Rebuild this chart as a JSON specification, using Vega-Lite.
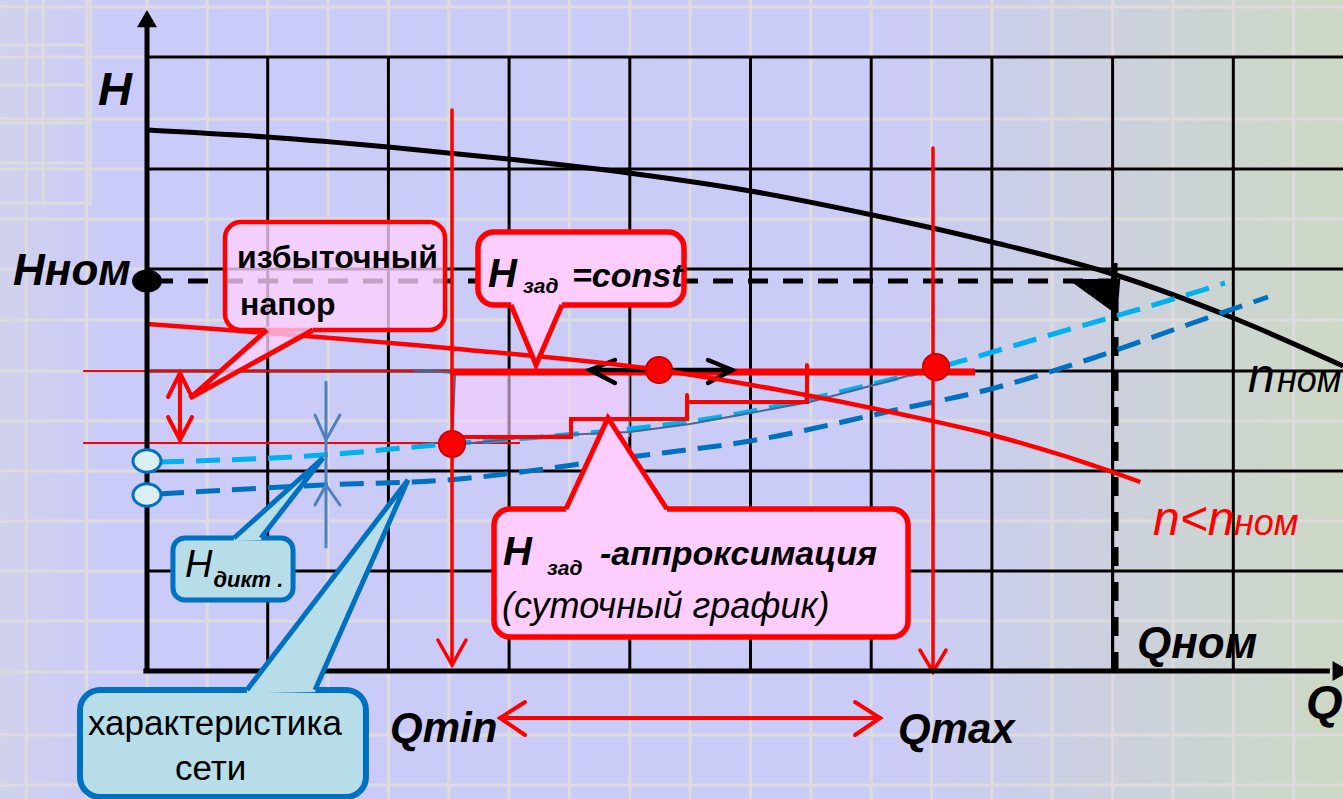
{
"$schema": "https://vega.github.io/schema/vega-lite/v6.json",
"width": 1343, "height": 799,
"autosize": {"type": "none"},
"padding": 0,
"background": "#cbcbf8",
"config": {"view": {"stroke": null}},
"datasets": {
"bg": [{"x": -1.2179, "x2": 9.9088, "y": -1.28, "y2": 6.71}],
"lgv": [{"x": -1},{"x": -0.5},{"x": 0},{"x": 0.5},{"x": 1},{"x": 1.5},{"x": 2},{"x": 2.5},{"x": 3},{"x": 3.5},{"x": 4},{"x": 4.5},{"x": 5},{"x": 5.5},{"x": 6},{"x": 6.5},{"x": 7},{"x": 7.5},{"x": 8},{"x": 8.5},{"x": 9},{"x": 9.5}],
"lgh": [{"y": 6.64},{"y": 6.14},{"y": 5.52},{"y": 5.02},{"y": 4.52},{"y": 4.02},{"y": 3.51},{"y": 3.0},{"y": 2.5},{"y": 2.0},{"y": 1.5},{"y": 1.0},{"y": 0.5},{"y": -0.01},{"y": -0.64},{"y": -1.14}],
"lgv2": [{"x": -0.86, "y": 4.66, "y2": 6.71},{"x": -0.47, "y": 4.66, "y2": 6.71}],
"lgh2": [{"y": 6.26, "x": -1.2179, "x2": -0.47},{"y": 5.86, "x": -1.2179, "x2": -0.47},{"y": 5.48, "x": -1.2179, "x2": -0.47},{"y": 5.08, "x": -1.2179, "x2": -0.47},{"y": 4.68, "x": -1.2179, "x2": -0.47}],
"gridv": [{"x": 1, "y": 0, "y2": 6.14},{"x": 2, "y": 0, "y2": 6.14},{"x": 3, "y": 0, "y2": 6.14},{"x": 4, "y": 0, "y2": 6.14},{"x": 5, "y": 0, "y2": 6.14},{"x": 6, "y": 0, "y2": 6.14},{"x": 7, "y": 0, "y2": 6.14},{"x": 8, "y": 0, "y2": 6.14},{"x": 9, "y": 0, "y2": 6.14}],
"gridh": [{"y": 1, "x": 0, "x2": 9.91},{"y": 2, "x": 0, "x2": 9.91},{"y": 3, "x": 0, "x2": 9.91},{"y": 4.02, "x": 0, "x2": 9.91},{"y": 5.02, "x": 0, "x2": 9.91},{"y": 6.14, "x": 0, "x2": 9.91}],
"pinkRegion": [{"x": 2.527, "x2": 4.0, "y": 2.34, "y2": 2.98}],
"pump": [{"i":0,"x":0,"y":5.41},{"i":1,"x":0.994,"y":5.34},{"i":2,"x":2.0,"y":5.24},{"i":3,"x":2.99,"y":5.12},{"i":4,"x":3.99,"y":4.98},{"i":5,"x":5.0,"y":4.80},{"i":6,"x":6.01,"y":4.56},{"i":7,"x":7.0,"y":4.29},{"i":8,"x":8.0,"y":3.97},{"i":9,"x":9.0,"y":3.53},{"i":10,"x":9.91,"y":3.05}],
"hnomDash": [{"x": 0.05, "x2": 8.0, "y": 3.9}],
"qnomV": [{"x": 8.0, "y": 0, "y2": 3.9}],
"qnomV2": [{"x": 8.02, "y": 0, "y2": 3.85}],
"qnomShort": [{"x": 8.02, "y": 3.9, "y2": 4.08}],
"cornerTri": [{"x": 7.84, "y": 3.74}],
"redThin": [{"x": -0.53, "x2": 2.53, "y": 3.0},{"x": -0.53, "x2": 3.09, "y": 2.28}],
"blueDash": [{"i":0,"x":0.108,"y":1.77},{"i":1,"x":1.458,"y":1.86},{"i":2,"x":2.485,"y":1.91},{"i":3,"x":4.0,"y":2.14},{"i":4,"x":4.996,"y":2.30},{"i":5,"x":6.239,"y":2.62},{"i":6,"x":6.959,"y":2.81},{"i":7,"x":7.788,"y":3.11},{"i":8,"x":8.616,"y":3.46},{"i":9,"x":9.287,"y":3.74}],
"cyanDash": [{"i":0,"x":0.108,"y":2.09},{"i":1,"x":1.458,"y":2.16},{"i":2,"x":2.485,"y":2.27},{"i":3,"x":3.256,"y":2.34},{"i":4,"x":4.0,"y":2.42},{"i":5,"x":4.747,"y":2.54},{"i":6,"x":5.493,"y":2.72},{"i":7,"x":6.214,"y":2.93},{"i":8,"x":6.537,"y":3.03},{"i":9,"x":7.481,"y":3.36},{"i":10,"x":8.476,"y":3.71},{"i":11,"x":8.931,"y":3.88}],
"slate": [{"i":0,"x":2.204,"y":3.01},{"i":1,"x":2.552,"y":2.98},{"i":2,"x":2.527,"y":2.26},{"i":3,"x":3.256,"y":2.35},{"i":4,"x":4.0,"y":2.39},{"i":5,"x":4.499,"y":2.47},{"i":6,"x":5.493,"y":2.69},{"i":7,"x":6.239,"y":2.93},{"i":8,"x":6.537,"y":3.03}],
"redThick": [{"x": 2.51, "x2": 6.86, "y": 2.99}],
"redMed": [
{"g":"stepA","i":0,"x":2.527,"y":2.34},{"g":"stepA","i":1,"x":3.513,"y":2.34},{"g":"stepA","i":2,"x":3.513,"y":2.52},{"g":"stepA","i":3,"x":4.474,"y":2.52},{"g":"stepA","i":4,"x":4.474,"y":2.76},
{"g":"stepB","i":0,"x":4.499,"y":2.69},{"g":"stepB","i":1,"x":5.468,"y":2.69},{"g":"stepB","i":2,"x":5.468,"y":3.06},
{"g":"vA","i":0,"x":0.273,"y":2.98},{"g":"vA","i":1,"x":0.273,"y":2.31},
{"g":"vT","i":0,"x":0.174,"y":2.74},{"g":"vT","i":1,"x":0.273,"y":2.98},{"g":"vT","i":2,"x":0.373,"y":2.74},
{"g":"vB","i":0,"x":0.174,"y":2.54},{"g":"vB","i":1,"x":0.273,"y":2.31},{"g":"vB","i":2,"x":0.373,"y":2.54},
{"g":"hA","i":0,"x":2.925,"y":-0.47},{"g":"hA","i":1,"x":6.073,"y":-0.47},
{"g":"hL","i":0,"x":3.132,"y":-0.31},{"g":"hL","i":1,"x":2.925,"y":-0.47},{"g":"hL","i":2,"x":3.132,"y":-0.64},
{"g":"hR","i":0,"x":5.866,"y":-0.31},{"g":"hR","i":1,"x":6.073,"y":-0.47},{"g":"hR","i":2,"x":5.866,"y":-0.64}],
"blackArrow": [
{"g":"b","i":0,"x":3.67,"y":3.01},{"g":"b","i":1,"x":4.847,"y":3.01},
{"g":"bl","i":0,"x":3.877,"y":3.11},{"g":"bl","i":1,"x":3.67,"y":3.01},{"g":"bl","i":2,"x":3.877,"y":2.88},
{"g":"br","i":0,"x":4.648,"y":3.11},{"g":"br","i":1,"x":4.847,"y":3.01},{"g":"br","i":2,"x":4.648,"y":2.88}],
"redCurve": [{"i":0,"x":0,"y":3.47},{"i":1,"x":2.485,"y":3.23},{"i":2,"x":4.242,"y":3.01},{"i":3,"x":5.24,"y":2.81},{"i":4,"x":6.24,"y":2.57},{"i":5,"x":7.0,"y":2.36},{"i":6,"x":8.0,"y":1.99},{"i":7,"x":8.23,"y":1.89}],
"redArrows": [
{"g":"a1","i":0,"x":2.527,"y":5.61},{"g":"a1","i":1,"x":2.527,"y":0.06},
{"g":"a1h","i":0,"x":2.41,"y":0.31},{"g":"a1h","i":1,"x":2.527,"y":0.06},{"g":"a1h","i":2,"x":2.643,"y":0.31},
{"g":"a2","i":0,"x":6.512,"y":5.23},{"g":"a2","i":1,"x":6.512,"y":-0.01},
{"g":"a2h","i":0,"x":6.404,"y":0.21},{"g":"a2h","i":1,"x":6.512,"y":-0.01},{"g":"a2h","i":2,"x":6.62,"y":0.21}],
"redDots": [{"x":2.527,"y":2.27},{"x":4.242,"y":3.01},{"x":6.537,"y":3.04}],
"dikt": [
{"g":"d","i":0,"x":1.483,"y":2.89},{"g":"d","i":1,"x":1.483,"y":1.24},
{"g":"dt","i":0,"x":1.392,"y":2.56},{"g":"dt","i":1,"x":1.483,"y":2.31},{"g":"dt","i":2,"x":1.599,"y":2.56},
{"g":"db","i":0,"x":1.392,"y":1.66},{"g":"db","i":1,"x":1.483,"y":1.86},{"g":"db","i":2,"x":1.599,"y":1.66}],
"axes": [{"x": 0, "y": 0, "x2": 0, "y2": 6.45},{"x": -0.03, "y": 0, "x2": 9.8, "y2": 0}],
"arrowUp": [{"x": 0, "y": 6.523}],
"arrowRight": [{"x": 9.894, "y": 0}],
"ellipses": [{"x": 0, "y": 2.10},{"x": 0, "y": 1.76}],
"hnomDot": [{"x": 0, "y": 3.9}],
"boxA": [{"x": 0.646, "x2": 2.469, "y": 4.49, "y2": 3.41}],
"ptrA": [{"x":0.356,"y":2.73,"y2":2.73},{"x":0.994,"y":3.445,"y2":3.156},{"x":1.375,"y":3.445,"y2":3.41}],
"boxBC": [{"x": 2.742, "x2": 4.449, "y": 4.39, "y2": 3.66},{"x": 2.875, "x2": 6.305, "y": 1.62, "y2": 0.34}],
"ptrBC": [{"g":"b","x":3.016,"y":3.69,"y2":3.66},{"g":"b","x":3.223,"y":3.69,"y2":3.06},{"g":"b","x":3.438,"y":3.69,"y2":3.66},
{"g":"c","x":3.471,"y":1.62,"y2":1.59},{"g":"c","x":3.819,"y":2.53,"y2":1.59},{"g":"c","x":4.308,"y":1.62,"y2":1.59}],
"ptrRed": [{"g":"a","i":0,"x":0.994,"y":3.41},{"g":"a","i":1,"x":0.356,"y":2.73},{"g":"a","i":2,"x":1.375,"y":3.41},
{"g":"b","i":0,"x":3.016,"y":3.66},{"g":"b","i":1,"x":3.223,"y":3.06},{"g":"b","i":2,"x":3.438,"y":3.66},
{"g":"c","i":0,"x":3.471,"y":1.62},{"g":"c","i":1,"x":3.819,"y":2.53},{"g":"c","i":2,"x":4.308,"y":1.62}],
"boxD": [{"x": 0.215, "x2": 1.21, "y": 1.33, "y2": 0.71}],
"boxE": [{"x": -0.555, "x2": 1.814, "y": -0.19, "y2": -1.26}],
"ptrDE": [{"g":"d","x":0.721,"y":1.33,"y2":1.30},{"g":"d","x":0.944,"y":1.572,"y2":1.31},{"g":"d","x":1.458,"y":2.13,"y2":2.13},
{"g":"e","x":0.828,"y":-0.19,"y2":-0.225},{"g":"e","x":1.392,"y":0.698,"y2":-0.21},{"g":"e","x":2.162,"y":1.91,"y2":1.91}],
"ptrBlue": [{"g":"d","i":0,"x":0.721,"y":1.33},{"g":"d","i":1,"x":1.458,"y":2.13},{"g":"d","i":2,"x":0.944,"y":1.33},
{"g":"e","i":0,"x":0.828,"y":-0.19},{"g":"e","i":1,"x":2.162,"y":1.91},{"g":"e","i":2,"x":1.392,"y":-0.19}],
"tBig": [{"t":"H","x":-0.406,"y":5.66},{"t":"Q","x":9.602,"y":-0.47}],
"tNom": [{"t":"Hном","x":-1.11,"y":3.86},{"t":"Qном","x":8.202,"y":0.13}],
"tQ": [{"t":"Qmin","x":2.013,"y":-0.71},{"t":"Qmax","x":6.222,"y":-0.72}],
"tnBig": [{"t":"n","x":9.122,"y":2.79}],
"tnSmall": [{"t":"ном","x":9.362,"y":2.79}],
"tnRedBig": [{"t":"n<n","x":8.335,"y":1.36}],
"tnRedSmall": [{"t":"ном","x":9.006,"y":1.36}],
"tIzb": [{"t":"избыточный","x":0.746,"y":4.03},{"t":"напор","x":0.771,"y":3.56}],
"tHz": [{"t":"H","x":2.825,"y":3.84},{"t":"H","x":2.95,"y":1.06}],
"tZad": [{"t":"зад","x":3.115,"y":3.78},{"t":"зад","x":3.314,"y":0.96}],
"tConst": [{"t":"=const","x":3.521,"y":3.84},{"t":"-аппроксимация","x":3.753,"y":1.06}],
"tSut": [{"t":"(суточный график)","x":2.941,"y":0.53}],
"tHd": [{"t":"H","x":0.315,"y":0.94}],
"tDikt": [{"t":"дикт .","x":0.55,"y":0.84}],
"tSeti": [{"t":"характеристика","x":-0.489,"y":-0.64},{"t":"сети","x":0.232,"y":-1.09}]
},
"layer": [
{"data": {"name": "bg"}, "mark": {"type": "rect", "color": {"gradient": "linear", "x1": 0, "y1": 0, "x2": 1, "y2": 0, "stops": [{"offset": 0, "color": "#d0d1ec"}, {"offset": 0.08, "color": "#cbcbf9"}, {"offset": 0.66, "color": "#cbcbf7"}, {"offset": 0.84, "color": "#ccd1dc"}, {"offset": 1, "color": "#cdd9c4"}]}},
 "encoding": {"x": {"field":"x","type":"quantitative","scale":{"domain":[-1.2179,9.9088],"nice":false,"zero":false},"axis":null}, "x2": {"field":"x2"}, "y": {"field":"y","type":"quantitative","scale":{"domain":[-1.28,6.71],"nice":false,"zero":false},"axis":null}, "y2": {"field":"y2"}}},
{"data": {"name": "lgv"}, "mark": {"type": "rule", "color": "#dcdcdc", "strokeWidth": 3},
 "encoding": {"x": {"field":"x","type":"quantitative","scale":{"domain":[-1.2179,9.9088],"nice":false,"zero":false},"axis":null}}},
{"data": {"name": "lgh"}, "mark": {"type": "rule", "color": "#dcdcdc", "strokeWidth": 3},
 "encoding": {"y": {"field":"y","type":"quantitative","scale":{"domain":[-1.28,6.71],"nice":false,"zero":false},"axis":null}}},
{"data": {"name": "lgv2"}, "mark": {"type": "rule", "color": "#dcdcdc", "strokeWidth": 3},
 "encoding": {"x": {"field":"x","type":"quantitative","scale":{"domain":[-1.2179,9.9088],"nice":false,"zero":false},"axis":null}, "y": {"field":"y","type":"quantitative","scale":{"domain":[-1.28,6.71],"nice":false,"zero":false},"axis":null}, "y2": {"field":"y2"}}},
{"data": {"name": "lgh2"}, "mark": {"type": "rule", "color": "#dcdcdc", "strokeWidth": 3},
 "encoding": {"x": {"field":"x","type":"quantitative","scale":{"domain":[-1.2179,9.9088],"nice":false,"zero":false},"axis":null}, "x2": {"field":"x2"}, "y": {"field":"y","type":"quantitative","scale":{"domain":[-1.28,6.71],"nice":false,"zero":false},"axis":null}}},
{"data": {"name": "gridv"}, "mark": {"type": "rule", "color": "#000000", "strokeWidth": 3},
 "encoding": {"x": {"field":"x","type":"quantitative","scale":{"domain":[-1.2179,9.9088],"nice":false,"zero":false},"axis":null}, "y": {"field":"y","type":"quantitative","scale":{"domain":[-1.28,6.71],"nice":false,"zero":false},"axis":null}, "y2": {"field":"y2"}}},
{"data": {"name": "gridh"}, "mark": {"type": "rule", "color": "#000000", "strokeWidth": 3},
 "encoding": {"x": {"field":"x","type":"quantitative","scale":{"domain":[-1.2179,9.9088],"nice":false,"zero":false},"axis":null}, "x2": {"field":"x2"}, "y": {"field":"y","type":"quantitative","scale":{"domain":[-1.28,6.71],"nice":false,"zero":false},"axis":null}}},
{"data": {"name": "pinkRegion"}, "mark": {"type": "rect", "color": "#f9cdfb", "opacity": 0.6},
 "encoding": {"x": {"field":"x","type":"quantitative","scale":{"domain":[-1.2179,9.9088],"nice":false,"zero":false},"axis":null}, "x2": {"field":"x2"}, "y": {"field":"y","type":"quantitative","scale":{"domain":[-1.28,6.71],"nice":false,"zero":false},"axis":null}, "y2": {"field":"y2"}}},
{"data": {"name": "pump"}, "mark": {"type": "line", "color": "#000000", "strokeWidth": 5, "interpolate": "monotone"},
 "encoding": {"x": {"field":"x","type":"quantitative","scale":{"domain":[-1.2179,9.9088],"nice":false,"zero":false},"axis":null}, "y": {"field":"y","type":"quantitative","scale":{"domain":[-1.28,6.71],"nice":false,"zero":false},"axis":null}, "order": {"field":"i","type":"quantitative"}}},
{"data": {"name": "hnomDash"}, "mark": {"type": "rule", "color": "#000000", "strokeWidth": 5, "strokeDash": [20, 15]},
 "encoding": {"x": {"field":"x","type":"quantitative","scale":{"domain":[-1.2179,9.9088],"nice":false,"zero":false},"axis":null}, "x2": {"field":"x2"}, "y": {"field":"y","type":"quantitative","scale":{"domain":[-1.28,6.71],"nice":false,"zero":false},"axis":null}}},
{"data": {"name": "qnomV"}, "mark": {"type": "rule", "color": "#000000", "strokeWidth": 3},
 "encoding": {"x": {"field":"x","type":"quantitative","scale":{"domain":[-1.2179,9.9088],"nice":false,"zero":false},"axis":null}, "y": {"field":"y","type":"quantitative","scale":{"domain":[-1.28,6.71],"nice":false,"zero":false},"axis":null}, "y2": {"field":"y2"}}},
{"data": {"name": "qnomV2"}, "mark": {"type": "rule", "color": "#000000", "strokeWidth": 7, "strokeDash": [19, 16]},
 "encoding": {"x": {"field":"x","type":"quantitative","scale":{"domain":[-1.2179,9.9088],"nice":false,"zero":false},"axis":null}, "y": {"field":"y","type":"quantitative","scale":{"domain":[-1.28,6.71],"nice":false,"zero":false},"axis":null}, "y2": {"field":"y2"}}},
{"data": {"name": "qnomShort"}, "mark": {"type": "rule", "color": "#000000", "strokeWidth": 5},
 "encoding": {"x": {"field":"x","type":"quantitative","scale":{"domain":[-1.2179,9.9088],"nice":false,"zero":false},"axis":null}, "y": {"field":"y","type":"quantitative","scale":{"domain":[-1.28,6.71],"nice":false,"zero":false},"axis":null}, "y2": {"field":"y2"}}},
{"data": {"name": "cornerTri"}, "mark": {"type": "point", "shape": "M-0.96,-0.67L1,-0.67L0.89,0.67Z", "size": 2916, "filled": true, "color": "#000000", "opacity": 1},
 "encoding": {"x": {"field":"x","type":"quantitative","scale":{"domain":[-1.2179,9.9088],"nice":false,"zero":false},"axis":null}, "y": {"field":"y","type":"quantitative","scale":{"domain":[-1.28,6.71],"nice":false,"zero":false},"axis":null}}},
{"data": {"name": "redThin"}, "mark": {"type": "rule", "color": "#ff0000", "strokeWidth": 1.8},
 "encoding": {"x": {"field":"x","type":"quantitative","scale":{"domain":[-1.2179,9.9088],"nice":false,"zero":false},"axis":null}, "x2": {"field":"x2"}, "y": {"field":"y","type":"quantitative","scale":{"domain":[-1.28,6.71],"nice":false,"zero":false},"axis":null}}},
{"data": {"name": "blueDash"}, "mark": {"type": "line", "color": "#0070c0", "strokeWidth": 5, "strokeDash": [24, 12], "interpolate": "monotone"},
 "encoding": {"x": {"field":"x","type":"quantitative","scale":{"domain":[-1.2179,9.9088],"nice":false,"zero":false},"axis":null}, "y": {"field":"y","type":"quantitative","scale":{"domain":[-1.28,6.71],"nice":false,"zero":false},"axis":null}, "order": {"field":"i","type":"quantitative"}}},
{"data": {"name": "cyanDash"}, "mark": {"type": "line", "color": "#00b0f0", "strokeWidth": 5, "strokeDash": [24, 12], "interpolate": "monotone"},
 "encoding": {"x": {"field":"x","type":"quantitative","scale":{"domain":[-1.2179,9.9088],"nice":false,"zero":false},"axis":null}, "y": {"field":"y","type":"quantitative","scale":{"domain":[-1.28,6.71],"nice":false,"zero":false},"axis":null}, "order": {"field":"i","type":"quantitative"}}},
{"data": {"name": "slate"}, "mark": {"type": "line", "color": "#4a6690", "strokeWidth": 2},
 "encoding": {"x": {"field":"x","type":"quantitative","scale":{"domain":[-1.2179,9.9088],"nice":false,"zero":false},"axis":null}, "y": {"field":"y","type":"quantitative","scale":{"domain":[-1.28,6.71],"nice":false,"zero":false},"axis":null}, "order": {"field":"i","type":"quantitative"}}},
{"data": {"name": "redThick"}, "mark": {"type": "rule", "color": "#ff0000", "strokeWidth": 7},
 "encoding": {"x": {"field":"x","type":"quantitative","scale":{"domain":[-1.2179,9.9088],"nice":false,"zero":false},"axis":null}, "x2": {"field":"x2"}, "y": {"field":"y","type":"quantitative","scale":{"domain":[-1.28,6.71],"nice":false,"zero":false},"axis":null}}},
{"data": {"name": "redMed"}, "mark": {"type": "line", "color": "#ff0000", "strokeWidth": 4, "strokeCap": "round", "strokeJoin": "miter"},
 "encoding": {"x": {"field":"x","type":"quantitative","scale":{"domain":[-1.2179,9.9088],"nice":false,"zero":false},"axis":null}, "y": {"field":"y","type":"quantitative","scale":{"domain":[-1.28,6.71],"nice":false,"zero":false},"axis":null}, "detail": {"field":"g"}, "order": {"field":"i","type":"quantitative"}}},
{"data": {"name": "blackArrow"}, "mark": {"type": "line", "color": "#000000", "strokeWidth": 4.5, "strokeCap": "round"},
 "encoding": {"x": {"field":"x","type":"quantitative","scale":{"domain":[-1.2179,9.9088],"nice":false,"zero":false},"axis":null}, "y": {"field":"y","type":"quantitative","scale":{"domain":[-1.28,6.71],"nice":false,"zero":false},"axis":null}, "detail": {"field":"g"}, "order": {"field":"i","type":"quantitative"}}},
{"data": {"name": "redCurve"}, "mark": {"type": "line", "color": "#ff0000", "strokeWidth": 4.5, "interpolate": "monotone"},
 "encoding": {"x": {"field":"x","type":"quantitative","scale":{"domain":[-1.2179,9.9088],"nice":false,"zero":false},"axis":null}, "y": {"field":"y","type":"quantitative","scale":{"domain":[-1.28,6.71],"nice":false,"zero":false},"axis":null}, "order": {"field":"i","type":"quantitative"}}},
{"data": {"name": "redArrows"}, "mark": {"type": "line", "color": "#ff0000", "strokeWidth": 3.5, "strokeCap": "round"},
 "encoding": {"x": {"field":"x","type":"quantitative","scale":{"domain":[-1.2179,9.9088],"nice":false,"zero":false},"axis":null}, "y": {"field":"y","type":"quantitative","scale":{"domain":[-1.28,6.71],"nice":false,"zero":false},"axis":null}, "detail": {"field":"g"}, "order": {"field":"i","type":"quantitative"}}},
{"data": {"name": "redDots"}, "mark": {"type": "point", "shape": "circle", "size": 707, "filled": true, "fill": "#ff0000", "stroke": "#c00000", "strokeWidth": 1.5, "opacity": 1},
 "encoding": {"x": {"field":"x","type":"quantitative","scale":{"domain":[-1.2179,9.9088],"nice":false,"zero":false},"axis":null}, "y": {"field":"y","type":"quantitative","scale":{"domain":[-1.28,6.71],"nice":false,"zero":false},"axis":null}}},
{"data": {"name": "dikt"}, "mark": {"type": "line", "color": "#4f81bd", "strokeWidth": 3, "strokeCap": "round"},
 "encoding": {"x": {"field":"x","type":"quantitative","scale":{"domain":[-1.2179,9.9088],"nice":false,"zero":false},"axis":null}, "y": {"field":"y","type":"quantitative","scale":{"domain":[-1.28,6.71],"nice":false,"zero":false},"axis":null}, "detail": {"field":"g"}, "order": {"field":"i","type":"quantitative"}}},
{"data": {"name": "axes"}, "mark": {"type": "rule", "color": "#000000", "strokeWidth": 5},
 "encoding": {"x": {"field":"x","type":"quantitative","scale":{"domain":[-1.2179,9.9088],"nice":false,"zero":false},"axis":null}, "x2": {"field":"x2"}, "y": {"field":"y","type":"quantitative","scale":{"domain":[-1.28,6.71],"nice":false,"zero":false},"axis":null}, "y2": {"field":"y2"}}},
{"data": {"name": "arrowUp"}, "mark": {"type": "point", "shape": "triangle-up", "size": 400, "filled": true, "color": "#000000", "opacity": 1},
 "encoding": {"x": {"field":"x","type":"quantitative","scale":{"domain":[-1.2179,9.9088],"nice":false,"zero":false},"axis":null}, "y": {"field":"y","type":"quantitative","scale":{"domain":[-1.28,6.71],"nice":false,"zero":false},"axis":null}}},
{"data": {"name": "arrowRight"}, "mark": {"type": "point", "shape": "triangle-right", "size": 400, "filled": true, "color": "#000000", "opacity": 1},
 "encoding": {"x": {"field":"x","type":"quantitative","scale":{"domain":[-1.2179,9.9088],"nice":false,"zero":false},"axis":null}, "y": {"field":"y","type":"quantitative","scale":{"domain":[-1.28,6.71],"nice":false,"zero":false},"axis":null}}},
{"data": {"name": "ellipses"}, "mark": {"type": "point", "shape": "M-1,0A1,0.8,0,1,1,1,0A1,0.8,0,1,1,-1,0Z", "size": 784, "filled": true, "fill": "#daeef3", "stroke": "#0070c0", "strokeWidth": 3, "opacity": 1},
 "encoding": {"x": {"field":"x","type":"quantitative","scale":{"domain":[-1.2179,9.9088],"nice":false,"zero":false},"axis":null}, "y": {"field":"y","type":"quantitative","scale":{"domain":[-1.28,6.71],"nice":false,"zero":false},"axis":null}}},
{"data": {"name": "hnomDot"}, "mark": {"type": "point", "shape": "M-1,0A1,0.77,0,1,1,1,0A1,0.77,0,1,1,-1,0Z", "size": 900, "filled": true, "color": "#000000", "opacity": 1},
 "encoding": {"x": {"field":"x","type":"quantitative","scale":{"domain":[-1.2179,9.9088],"nice":false,"zero":false},"axis":null}, "y": {"field":"y","type":"quantitative","scale":{"domain":[-1.28,6.71],"nice":false,"zero":false},"axis":null}}},
{"data": {"name": "boxA"}, "mark": {"type": "rect", "fill": "#fccffc", "fillOpacity": 0.78, "stroke": "#ff0000", "strokeWidth": 4.5, "cornerRadius": 16},
 "encoding": {"x": {"field":"x","type":"quantitative","scale":{"domain":[-1.2179,9.9088],"nice":false,"zero":false},"axis":null}, "x2": {"field":"x2"}, "y": {"field":"y","type":"quantitative","scale":{"domain":[-1.28,6.71],"nice":false,"zero":false},"axis":null}, "y2": {"field":"y2"}}},
{"data": {"name": "ptrA"}, "mark": {"type": "area", "orient": "vertical", "color": "#fccffc", "opacity": 0.78},
 "encoding": {"x": {"field":"x","type":"quantitative","scale":{"domain":[-1.2179,9.9088],"nice":false,"zero":false},"axis":null}, "y": {"field":"y","type":"quantitative","stack": null,"scale":{"domain":[-1.28,6.71],"nice":false,"zero":false},"axis":null}, "y2": {"field":"y2"}}},
{"data": {"name": "boxBC"}, "mark": {"type": "rect", "fill": "#fdcefd", "stroke": "#ff0000", "strokeWidth": 5.5, "cornerRadius": 16},
 "encoding": {"x": {"field":"x","type":"quantitative","scale":{"domain":[-1.2179,9.9088],"nice":false,"zero":false},"axis":null}, "x2": {"field":"x2"}, "y": {"field":"y","type":"quantitative","scale":{"domain":[-1.28,6.71],"nice":false,"zero":false},"axis":null}, "y2": {"field":"y2"}}},
{"data": {"name": "ptrBC"}, "mark": {"type": "area", "orient": "vertical", "color": "#fdcefd", "opacity": 1},
 "encoding": {"x": {"field":"x","type":"quantitative","scale":{"domain":[-1.2179,9.9088],"nice":false,"zero":false},"axis":null}, "y": {"field":"y","type":"quantitative","stack": null,"scale":{"domain":[-1.28,6.71],"nice":false,"zero":false},"axis":null}, "y2": {"field":"y2"}, "detail": {"field":"g"}}},
{"data": {"name": "ptrRed"}, "mark": {"type": "line", "color": "#ff0000", "strokeWidth": 5, "strokeJoin": "miter"},
 "encoding": {"x": {"field":"x","type":"quantitative","scale":{"domain":[-1.2179,9.9088],"nice":false,"zero":false},"axis":null}, "y": {"field":"y","type":"quantitative","scale":{"domain":[-1.28,6.71],"nice":false,"zero":false},"axis":null}, "detail": {"field":"g"}, "order": {"field":"i","type":"quantitative"}}},
{"data": {"name": "boxD"}, "mark": {"type": "rect", "fill": "#b7dde8", "stroke": "#0070c0", "strokeWidth": 5, "cornerRadius": 12},
 "encoding": {"x": {"field":"x","type":"quantitative","scale":{"domain":[-1.2179,9.9088],"nice":false,"zero":false},"axis":null}, "x2": {"field":"x2"}, "y": {"field":"y","type":"quantitative","scale":{"domain":[-1.28,6.71],"nice":false,"zero":false},"axis":null}, "y2": {"field":"y2"}}},
{"data": {"name": "boxE"}, "mark": {"type": "rect", "fill": "#b7dde8", "stroke": "#0070c0", "strokeWidth": 6, "cornerRadius": 20},
 "encoding": {"x": {"field":"x","type":"quantitative","scale":{"domain":[-1.2179,9.9088],"nice":false,"zero":false},"axis":null}, "x2": {"field":"x2"}, "y": {"field":"y","type":"quantitative","scale":{"domain":[-1.28,6.71],"nice":false,"zero":false},"axis":null}, "y2": {"field":"y2"}}},
{"data": {"name": "ptrDE"}, "mark": {"type": "area", "orient": "vertical", "color": "#b7dde8", "opacity": 1},
 "encoding": {"x": {"field":"x","type":"quantitative","scale":{"domain":[-1.2179,9.9088],"nice":false,"zero":false},"axis":null}, "y": {"field":"y","type":"quantitative","stack": null,"scale":{"domain":[-1.28,6.71],"nice":false,"zero":false},"axis":null}, "y2": {"field":"y2"}, "detail": {"field":"g"}}},
{"data": {"name": "ptrBlue"}, "mark": {"type": "line", "color": "#0070c0", "strokeWidth": 5, "strokeJoin": "miter"},
 "encoding": {"x": {"field":"x","type":"quantitative","scale":{"domain":[-1.2179,9.9088],"nice":false,"zero":false},"axis":null}, "y": {"field":"y","type":"quantitative","scale":{"domain":[-1.28,6.71],"nice":false,"zero":false},"axis":null}, "detail": {"field":"g"}, "order": {"field":"i","type":"quantitative"}}},
{"data": {"name": "tBig"}, "mark": {"type": "text", "align": "left", "baseline": "alphabetic", "font": "Liberation Sans", "fontSize": 47, "fontStyle": "italic", "fontWeight": "bold", "color": "#000000"},
 "encoding": {"x": {"field":"x","type":"quantitative","scale":{"domain":[-1.2179,9.9088],"nice":false,"zero":false},"axis":null}, "y": {"field":"y","type":"quantitative","scale":{"domain":[-1.28,6.71],"nice":false,"zero":false},"axis":null}, "text": {"field":"t"}}},
{"data": {"name": "tNom"}, "mark": {"type": "text", "align": "left", "baseline": "alphabetic", "font": "Liberation Sans", "fontSize": 44, "fontStyle": "italic", "fontWeight": "bold", "color": "#000000"},
 "encoding": {"x": {"field":"x","type":"quantitative","scale":{"domain":[-1.2179,9.9088],"nice":false,"zero":false},"axis":null}, "y": {"field":"y","type":"quantitative","scale":{"domain":[-1.28,6.71],"nice":false,"zero":false},"axis":null}, "text": {"field":"t"}}},
{"data": {"name": "tQ"}, "mark": {"type": "text", "align": "left", "baseline": "alphabetic", "font": "Liberation Sans", "fontSize": 42, "fontStyle": "italic", "fontWeight": "bold", "color": "#000000"},
 "encoding": {"x": {"field":"x","type":"quantitative","scale":{"domain":[-1.2179,9.9088],"nice":false,"zero":false},"axis":null}, "y": {"field":"y","type":"quantitative","scale":{"domain":[-1.28,6.71],"nice":false,"zero":false},"axis":null}, "text": {"field":"t"}}},
{"data": {"name": "tnBig"}, "mark": {"type": "text", "align": "left", "baseline": "alphabetic", "font": "Liberation Sans", "fontSize": 48, "fontStyle": "italic", "color": "#000000"},
 "encoding": {"x": {"field":"x","type":"quantitative","scale":{"domain":[-1.2179,9.9088],"nice":false,"zero":false},"axis":null}, "y": {"field":"y","type":"quantitative","scale":{"domain":[-1.28,6.71],"nice":false,"zero":false},"axis":null}, "text": {"field":"t"}}},
{"data": {"name": "tnSmall"}, "mark": {"type": "text", "align": "left", "baseline": "alphabetic", "font": "Liberation Sans", "fontSize": 36, "fontStyle": "italic", "color": "#000000"},
 "encoding": {"x": {"field":"x","type":"quantitative","scale":{"domain":[-1.2179,9.9088],"nice":false,"zero":false},"axis":null}, "y": {"field":"y","type":"quantitative","scale":{"domain":[-1.28,6.71],"nice":false,"zero":false},"axis":null}, "text": {"field":"t"}}},
{"data": {"name": "tnRedBig"}, "mark": {"type": "text", "align": "left", "baseline": "alphabetic", "font": "Liberation Sans", "fontSize": 48, "fontStyle": "italic", "color": "#ff0000"},
 "encoding": {"x": {"field":"x","type":"quantitative","scale":{"domain":[-1.2179,9.9088],"nice":false,"zero":false},"axis":null}, "y": {"field":"y","type":"quantitative","scale":{"domain":[-1.28,6.71],"nice":false,"zero":false},"axis":null}, "text": {"field":"t"}}},
{"data": {"name": "tnRedSmall"}, "mark": {"type": "text", "align": "left", "baseline": "alphabetic", "font": "Liberation Sans", "fontSize": 36, "fontStyle": "italic", "color": "#ff0000"},
 "encoding": {"x": {"field":"x","type":"quantitative","scale":{"domain":[-1.2179,9.9088],"nice":false,"zero":false},"axis":null}, "y": {"field":"y","type":"quantitative","scale":{"domain":[-1.28,6.71],"nice":false,"zero":false},"axis":null}, "text": {"field":"t"}}},
{"data": {"name": "tIzb"}, "mark": {"type": "text", "align": "left", "baseline": "alphabetic", "font": "Liberation Sans", "fontSize": 32, "fontWeight": "bold", "color": "#000000"},
 "encoding": {"x": {"field":"x","type":"quantitative","scale":{"domain":[-1.2179,9.9088],"nice":false,"zero":false},"axis":null}, "y": {"field":"y","type":"quantitative","scale":{"domain":[-1.28,6.71],"nice":false,"zero":false},"axis":null}, "text": {"field":"t"}}},
{"data": {"name": "tHz"}, "mark": {"type": "text", "align": "left", "baseline": "alphabetic", "font": "Liberation Sans", "fontSize": 40, "fontStyle": "italic", "fontWeight": "bold", "color": "#000000"},
 "encoding": {"x": {"field":"x","type":"quantitative","scale":{"domain":[-1.2179,9.9088],"nice":false,"zero":false},"axis":null}, "y": {"field":"y","type":"quantitative","scale":{"domain":[-1.28,6.71],"nice":false,"zero":false},"axis":null}, "text": {"field":"t"}}},
{"data": {"name": "tZad"}, "mark": {"type": "text", "align": "left", "baseline": "alphabetic", "font": "Liberation Sans", "fontSize": 21, "fontStyle": "italic", "fontWeight": "bold", "color": "#000000"},
 "encoding": {"x": {"field":"x","type":"quantitative","scale":{"domain":[-1.2179,9.9088],"nice":false,"zero":false},"axis":null}, "y": {"field":"y","type":"quantitative","scale":{"domain":[-1.28,6.71],"nice":false,"zero":false},"axis":null}, "text": {"field":"t"}}},
{"data": {"name": "tConst"}, "mark": {"type": "text", "align": "left", "baseline": "alphabetic", "font": "Liberation Sans", "fontSize": 34, "fontStyle": "italic", "fontWeight": "bold", "color": "#000000"},
 "encoding": {"x": {"field":"x","type":"quantitative","scale":{"domain":[-1.2179,9.9088],"nice":false,"zero":false},"axis":null}, "y": {"field":"y","type":"quantitative","scale":{"domain":[-1.28,6.71],"nice":false,"zero":false},"axis":null}, "text": {"field":"t"}}},
{"data": {"name": "tSut"}, "mark": {"type": "text", "align": "left", "baseline": "alphabetic", "font": "Liberation Sans", "fontSize": 36, "fontStyle": "italic", "color": "#000000"},
 "encoding": {"x": {"field":"x","type":"quantitative","scale":{"domain":[-1.2179,9.9088],"nice":false,"zero":false},"axis":null}, "y": {"field":"y","type":"quantitative","scale":{"domain":[-1.28,6.71],"nice":false,"zero":false},"axis":null}, "text": {"field":"t"}}},
{"data": {"name": "tHd"}, "mark": {"type": "text", "align": "left", "baseline": "alphabetic", "font": "Liberation Sans", "fontSize": 38, "fontStyle": "italic", "color": "#000000"},
 "encoding": {"x": {"field":"x","type":"quantitative","scale":{"domain":[-1.2179,9.9088],"nice":false,"zero":false},"axis":null}, "y": {"field":"y","type":"quantitative","scale":{"domain":[-1.28,6.71],"nice":false,"zero":false},"axis":null}, "text": {"field":"t"}}},
{"data": {"name": "tDikt"}, "mark": {"type": "text", "align": "left", "baseline": "alphabetic", "font": "Liberation Sans", "fontSize": 22, "fontStyle": "italic", "fontWeight": "bold", "color": "#000000"},
 "encoding": {"x": {"field":"x","type":"quantitative","scale":{"domain":[-1.2179,9.9088],"nice":false,"zero":false},"axis":null}, "y": {"field":"y","type":"quantitative","scale":{"domain":[-1.28,6.71],"nice":false,"zero":false},"axis":null}, "text": {"field":"t"}}},
{"data": {"name": "tSeti"}, "mark": {"type": "text", "align": "left", "baseline": "alphabetic", "font": "Liberation Sans", "fontSize": 35, "color": "#000000"},
 "encoding": {"x": {"field":"x","type":"quantitative","scale":{"domain":[-1.2179,9.9088],"nice":false,"zero":false},"axis":null}, "y": {"field":"y","type":"quantitative","scale":{"domain":[-1.28,6.71],"nice":false,"zero":false},"axis":null}, "text": {"field":"t"}}}
]
}
